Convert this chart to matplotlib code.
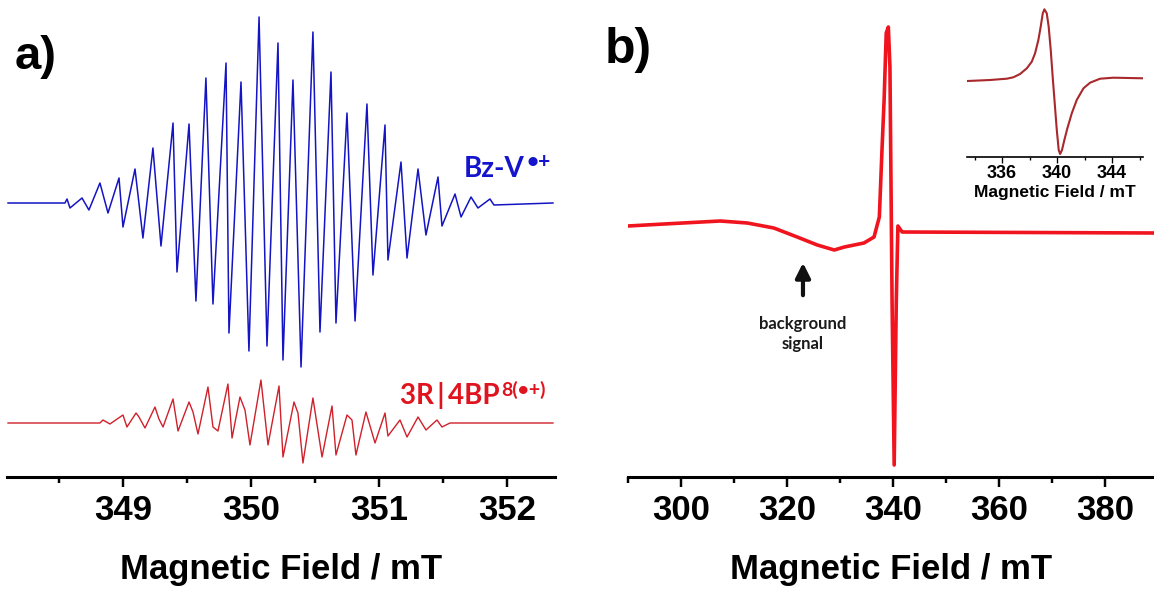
import numpy as np
import matplotlib
matplotlib.use('Agg')
import matplotlib.pyplot as plt
from matplotlib.ticker import MultipleLocator

plt.rcParams['font.family'] = ['Liberation Sans', 'DejaVu Sans']
plt.rcParams['font.weight'] = 'bold'
plt.rcParams['axes.labelweight'] = 'bold'

# a) Bz-V radical cation (field in mT, intensity in a.u.)
bz_field = [348.102, 348.547, 348.563, 348.586, 348.680, 348.734, 348.820, 348.883,
            348.969, 349.000, 349.094, 349.156, 349.234, 349.297, 349.391, 349.422,
            349.516, 349.570, 349.648, 349.703, 349.805, 349.828, 349.922, 349.984,
            350.063, 350.125, 350.211, 350.250, 350.328, 350.391, 350.484, 350.539,
            350.625, 350.664, 350.750, 350.813, 350.906, 350.953, 351.047, 351.070,
            351.172, 351.219, 351.305, 351.367, 351.461, 351.492, 351.594, 351.641,
            351.719, 351.773, 351.867, 351.898, 352.359]
bz_signal = [0, 0, 4, -5, 5, -7, 20, -10,
             25, -24, 34, -35, 55, -43, 80, -69,
             79, -98, 125, -101, 140, -130, 121, -148,
             186, -143, 160, -157, 123, -164, 171, -129,
             131, -120, 90, -118, 99, -72, 78, -57,
             41, -55, 34, -32, 26, -23, 9, -14,
             6, -5, 4, -2, 0]

# a) 3R|4BP radical cation
bp_field = [348.102, 348.820, 348.844, 348.898, 349.000, 349.031, 349.102, 349.125,
            349.172, 349.250, 349.281, 349.313, 349.391, 349.430, 349.516, 349.547,
            349.586, 349.664, 349.703, 349.742, 349.820, 349.852, 349.914, 349.953,
            349.992, 350.078, 350.133, 350.219, 350.250, 350.336, 350.367, 350.406,
            350.484, 350.555, 350.633, 350.664, 350.750, 350.789, 350.820, 350.898,
            350.969, 351.047, 351.070, 351.164, 351.219, 351.305, 351.367, 351.453,
            351.492, 351.555, 352.359]
bp_signal = [0, 0, 3, -1, 8, -4, 10, 6,
             -5, 16, 4, -4, 24, -8, 21, 11,
             -11, 36, -4, -8, 39, -15, 26, 13,
             -22, 43, -22, 37, -34, 21, 10, -40,
             25, -34, 17, -32, 8, 3, -32, 11,
             -20, 10, -13, 3, -14, 6, -7, 3,
             -4, 0, 0]

# b) full sweep with the broad background signal
b_field = [290.0, 296.8, 307.4, 312.5, 317.5, 321.9, 325.7, 328.9, 330.8, 334.5,
           336.4, 337.4, 337.9, 338.3, 338.7, 339.1, 339.4, 339.8, 340.2, 340.6,
           340.9, 341.7, 389.2]
b_signal = [0, 2, 5, 3, -2, -11, -19, -24, -21, -17,
            -11, 9, 76, 126, 193, 199, 159, -74, -239, -74,
            0, -6, -7]

# b) inset: narrow sweep around the main line
inset_field = [333.48, 335.13, 336.34, 336.82, 337.31, 337.80, 338.16, 338.40,
               338.64, 338.81, 338.96, 339.08, 339.25, 339.39, 339.54, 339.68,
               339.83, 339.98, 340.12, 340.22, 340.36, 340.53, 340.75, 341.07,
               341.43, 341.92, 342.40, 343.13, 344.10, 346.28]
inset_signal = [0, 1, 2.3, 3.7, 7, 12.7, 19.3, 27.7,
                41, 54.3, 67.7, 71.7, 67.7, 54.3, 31, 4.3,
                -22.3, -49, -69, -73, -69, -59, -47.3, -32.3,
                -19, -7.3, -1.7, 2.3, 3.3, 2.7]

W, H = 1154, 590
fig = plt.figure(figsize=(W / 100, H / 100), dpi=100)


def px_box(x0, y0, x1, y1):
    return [x0 / W, 1 - y1 / H, (x1 - x0) / W, (y1 - y0) / H]


def style_axis(ax, size, lw, major_len, minor_len, pad):
    for s in ['left', 'right', 'top']:
        ax.spines[s].set_visible(False)
    ax.spines['bottom'].set_linewidth(lw)
    ax.tick_params(axis='x', which='major', direction='out', length=major_len,
                   width=lw * 0.8, labelsize=size, pad=pad)
    ax.tick_params(axis='x', which='minor', direction='out', length=minor_len,
                   width=lw * 0.8)
    ax.tick_params(axis='y', which='both', left=False, labelleft=False)
    ax.patch.set_alpha(0)


# ---- panel a ----
ax1 = fig.add_axes(px_box(7, 0, 555, 477))
bz_offset = 274
bp_offset = 54
ax1.plot(bz_field, np.array(bz_signal) + bz_offset, color='#1414C4', lw=1.1)
ax1.plot(bp_field, np.array(bp_signal) + bp_offset, color='#D0202A', lw=1.0)
ax1.set_xlim(348.094, 352.375)
ax1.set_ylim(0, 477)
ax1.xaxis.set_major_locator(MultipleLocator(1))
ax1.xaxis.set_minor_locator(MultipleLocator(0.5))
style_axis(ax1, 25, 2.2, 7, 4, 5)
ax1.set_xlabel('Magnetic Field / mT', fontsize=25, labelpad=19)

lab = dict(family=['Lato', 'DejaVu Sans'], fontweight='bold')
ax1.text(352.14, 300, 'Bz-V', color='#1414CC', fontsize=20, ha='right',
         va='baseline', **lab)
ax1.text(352.15, 309, '•+', color='#1414CC', fontsize=15, ha='left',
         va='baseline', **lab)
ax1.text(351.945, 73, '3R\u2009|\u20094BP', color='#E0141E', fontsize=20,
         ha='right', va='baseline', **lab)
ax1.text(351.955, 81, '8(•+)', color='#E0141E', fontsize=14, ha='left',
         va='baseline', **lab)

fig.text(15 / W, 1 - 35 / H, 'a)', fontsize=34, ha='left', va='top')

# ---- panel b ----
ax2 = fig.add_axes(px_box(628, 0, 1154, 477))
ax2.plot(b_field, b_signal, color='#F0141E', lw=2.6)
ax2.set_xlim(290, 389.2)
ax2.set_ylim(-251, 226)
ax2.xaxis.set_major_locator(MultipleLocator(20))
ax2.xaxis.set_minor_locator(MultipleLocator(10))
style_axis(ax2, 25, 2.2, 7, 4, 5)
ax2.set_xlabel('Magnetic Field / mT', fontsize=25, labelpad=19)

ax2.annotate('', xy=(323.0, -34), xytext=(323.0, -72),
             arrowprops=dict(arrowstyle='-|>', lw=3, color='#111111',
                             mutation_scale=22))
ax2.text(323.0, -108, 'background\nsignal', ha='center', va='center',
         fontsize=12, linespacing=1.35, color='#1a1a1a', **lab)

fig.text(605 / W, 1 - 27 / H, 'b)', fontsize=36, ha='left', va='top')

# inset
ax3 = fig.add_axes(px_box(967, 5, 1143, 157))
ax3.plot(inset_field, inset_signal, color='#A8282C', lw=1.5)
ax3.set_xlim(333.45, 346.25)
ax3.set_ylim(-76, 76)
ax3.xaxis.set_major_locator(MultipleLocator(4))
ax3.xaxis.set_minor_locator(MultipleLocator(2))
style_axis(ax3, 13, 1.2, 4, 2.5, 2)
ax3.set_xlabel('Magnetic Field / mT', fontsize=12.5, labelpad=2)

fig.savefig('out.png', dpi=100)
